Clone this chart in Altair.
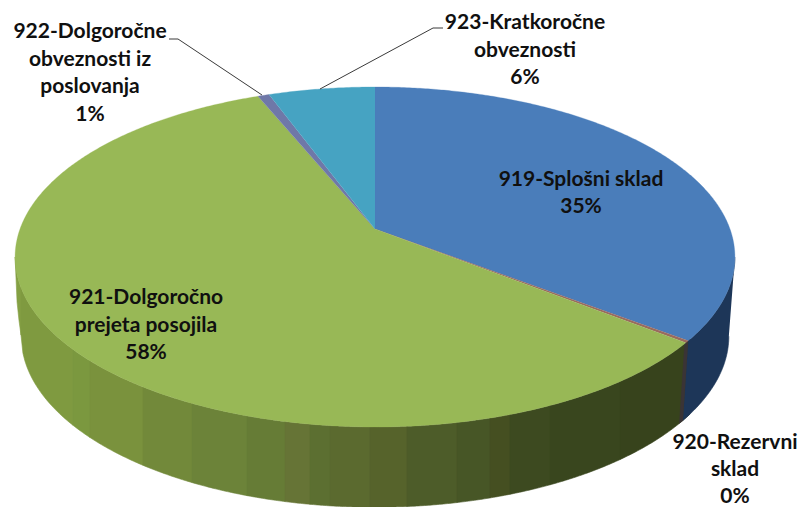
import math
import altair as alt
import pandas as pd

# ---- chart values ----
categories = ["919-Splošni sklad", "920-Rezervni sklad", "921-Dolgoročno prejeta posojila",
              "922-Dolgoročne obveznosti iz poslovanja", "923-Kratkoročne obveznosti"]
shares = [35.4, 0.2, 58.2, 0.6, 5.6]
top_colors = ["#4a7dba", "#9a6a5e", "#98b856", "#6f78a8", "#46a3c2"]
side_colors = ["#1d3658", "#3a3436"]

label_lines = [
    ["919-Splošni sklad", "35%"],
    ["920-Rezervni", "sklad", "0%"],
    ["921-Dolgoročno", "prejeta posojila", "58%"],
    ["922-Dolgoročne", "obveznosti iz", "poslovanja", "1%"],
    ["923-Kratkoročne", "obveznosti", "6%"],
]
label_x = [581, 735, 146, 90, 525]
label_y = [180, 443, 298, 32, 23]
line_gap = [27, 27, 27.5, 27.7, 27.5]

leader_lines = [
    [(169, 39), (178, 39), (262, 95)],
    [(443, 28), (433, 28), (320, 89)],
]

# shading bands of the green wall: right edge of each band and its colour
band_edges = [21, 73, 90, 143, 192, 247, 285, 310, 330, 370, 407, 457, 490, 510, 550, 620, 690]
band_colors = ["#84a043", "#7f9a40", "#7b983f", "#7a923d", "#72893a", "#6c8339", "#667c36", "#667436",
               "#5c6f31", "#5b6a2f", "#56632b", "#4d5c29", "#475626", "#454f21", "#3d4a20", "#39461e",
               "#37431c"]

# ---- page frame ----
W, H = 798, 507
PAD = 8
K = 0.1647
CX = 375
UP = dict(y0=229, a=355, b=165.4)
LOW = dict(y0=308, a=349, b=166.4)


def rim(t_deg, y0, a, b):
    t = math.radians(t_deg)
    w = 1 + K * math.cos(t)
    return CX + a * math.sin(t) / w, y0 - b * math.cos(t) / w


def top_rim(t):
    return rim(t, **UP)


def low_rim(t):
    return rim(t, **LOW)


def ell_front_y(x, p):
    rx = p["a"] / math.sqrt(1 - K * K)
    ry = p["b"] / (1 - K * K)
    cy = p["y0"] + K * ry
    d = max(0.0, 1 - ((x - CX) / rx) ** 2)
    return cy + ry * math.sqrt(d)


LEFT_UP = CX - UP["a"] / math.sqrt(1 - K * K)
LEFT_LOW = CX - LOW["a"] / math.sqrt(1 - K * K)


def wall_bottom_y(x):
    if x < LEFT_LOW:
        y_a, y_b = ell_front_y(LEFT_UP, UP), ell_front_y(LEFT_LOW, LOW)
        return y_a + (y_b - y_a) * math.sqrt((x - LEFT_UP) / (LEFT_LOW - LEFT_UP))
    return ell_front_y(x, LOW)


def angles(t0, t1):
    n = max(2, int(abs(t1 - t0) * 2) + 2)
    return [t0 + (t1 - t0) * i / (n - 1) for i in range(n)]


bounds = [0.0]
for s in shares:
    bounds.append(bounds[-1] + s / sum(shares) * 360)

EDGE_R = 99.5

band_rows = []
left = LEFT_UP
for edge, col in zip(band_edges, band_colors):
    steps = max(2, int(edge - left) // 2 + 2)
    for i in range(steps):
        x = left + (edge - left) * i / (steps - 1)
        band_rows.append(dict(key=f"{edge:04d}", x=x, y=ell_front_y(x, UP), y2=wall_bottom_y(x), color=col))
    left = edge

side_rows, top_rows = [], []


def add_wall(rows, key, t0, t1, color):
    pts = [low_rim(t) for t in angles(t0, t1)] + [top_rim(t) for t in angles(t1, t0)]
    for i, (x, y) in enumerate(pts):
        rows.append(dict(key=key, ord=i, x=x, y=y, color=color))


add_wall(side_rows, "blue", EDGE_R, bounds[1], side_colors[0])
add_wall(side_rows, "res", bounds[1], bounds[2] + 0.3, side_colors[1])

for j, cat in enumerate(categories):
    pts = [(CX, UP["y0"])] + [top_rim(t) for t in angles(bounds[j], bounds[j + 1])]
    for i, (x, y) in enumerate(pts):
        top_rows.append(dict(key=cat, ord=i, x=x, y=y, color=top_colors[j]))

leader_rows = []
for k, line in enumerate(leader_lines):
    for i, (x, y) in enumerate(line):
        leader_rows.append(dict(key=k, ord=i, x=x, y=y))

text_rows = []
for lines, lx, ly, gap in zip(label_lines, label_x, label_y, line_gap):
    for i, s in enumerate(lines):
        text_rows.append(dict(x=lx, y=ly + i * gap, text=s))

xs = alt.Scale(domain=[PAD, W], range=[0, W - PAD])
ys = alt.Scale(domain=[PAD, H], range=[0, H - PAD])
X = alt.X("x:Q", scale=xs, axis=None)
Y = alt.Y("y:Q", scale=ys, axis=None)


def poly(rows, sw=0.6):
    return alt.Chart(pd.DataFrame(rows)).mark_line(filled=True, strokeWidth=sw, clip=False).encode(
        x=X, y=Y, order="ord:Q", detail="key:N",
        fill=alt.Fill("color:N", scale=None),
        stroke=alt.Stroke("color:N", scale=None),
    )


bands = alt.Chart(pd.DataFrame(band_rows)).mark_area(strokeWidth=0.6, clip=False).encode(
    x=X, y=Y, y2="y2:Q", detail="key:N",
    fill=alt.Fill("color:N", scale=None),
    stroke=alt.Stroke("color:N", scale=None),
)

leaders = alt.Chart(pd.DataFrame(leader_rows)).mark_line(color="#3a3a3a", strokeWidth=1).encode(
    x=X, y=Y, order="ord:Q", detail="key:N")
texts = alt.Chart(pd.DataFrame(text_rows)).mark_text(
    font="Lato", fontWeight="bold", fontSize=21, color="#101010", align="center", baseline="middle"
).encode(x=X, y=Y, text="text:N")

chart = alt.layer(bands, poly(side_rows), poly(top_rows, 0.3), leaders, texts).properties(
    width=W - PAD, height=H - PAD, padding=0, autosize=alt.AutoSizeParams(type="none"),
    background="white",
).configure_view(stroke=None)

chart.save("out.html", embed_options={"renderer": "svg", "actions": False})
